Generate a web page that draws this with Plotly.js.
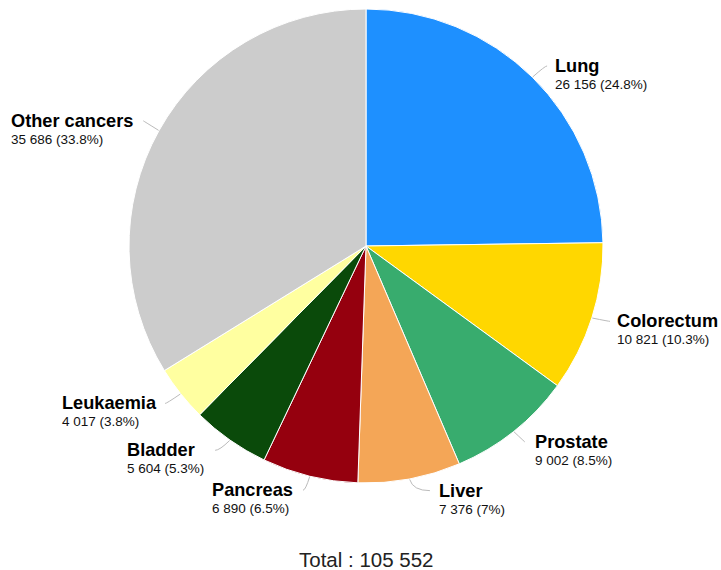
<!DOCTYPE html>
<html>
<head>
<meta charset="utf-8">
<script src="https://cdn.plot.ly/plotly-3.0.1.min.js"></script>
<style>html,body{margin:0;padding:0;background:#fff;}#chart{width:721px;height:570px;}</style>
</head>
<body>
<div id="chart"></div>
<script>
// ---- data ----
const categories = ['Lung', 'Colorectum', 'Prostate', 'Liver', 'Pancreas', 'Bladder', 'Leukaemia', 'Other cancers'];
const cases = [26156, 10821, 9002, 7376, 6890, 5604, 4017, 35686];
const colors = ['#1E90FF', '#FFD700', '#38AC6E', '#F4A657', '#95000E', '#0A4A0A', '#FFFFA0', '#CCCCCC'];

// ---- layout parameters (label placement tweaks: dx, dy, text gap) ----
const W = 721, H = 570;
const pieBox = {x0: 129, x1: 603, y0: 9, y1: 483};
const labelAdjust = [[2, 1.5, 9], [1, -2, 8], [0, -3.5, 11], [17, -6, 10], [-2.5, -3.5, 10], [-4.5, -4.5, 20], [-1.5, -1.5, 9], [0, -1, 10]];
const FAMILY = 'Liberation Sans, Arial, sans-serif';
const NAME_SIZE = 18.2, VALUE_SIZE = 13.5;

const fmt = v => v.toString().replace(/\B(?=(\d{3})+(?!\d))/g, ' ');
const total = cases.reduce((a, b) => a + b, 0);

const canvas = document.createElement('canvas');
const ctx = canvas.getContext('2d');
ctx.font = 'bold ' + NAME_SIZE + 'px "Liberation Sans", Arial, sans-serif';
const nameWidth = t => ctx.measureText(t).width;

const cx = (pieBox.x0 + pieBox.x1) / 2, cy = (pieBox.y0 + pieBox.y1) / 2;
const r = (pieBox.x1 - pieBox.x0) / 2;
const px = x => x / W, py = y => 1 - y / H;

const annotations = [];
const shapes = [];
let cum = 0;
cases.forEach((v, i) => {
  const frac = v / total;
  const mid = (cum + frac / 2) * 2 * Math.PI;
  cum += frac;
  const s = Math.sin(mid), c = Math.cos(mid);
  const right = s > 0;
  const E = [cx + (r + 0.5) * s, cy - (r + 0.5) * c];
  const R = [cx + (r + 18) * s, cy - (r + 18) * c];
  const adj = labelAdjust[i];
  const L = [R[0] + adj[0], R[1] + adj[1]];
  const C = [R[0], L[1]];
  shapes.push({
    type: 'path', xref: 'paper', yref: 'paper',
    path: `M ${px(E[0])} ${py(E[1])} Q ${px(C[0])} ${py(C[1])} ${px(L[0])} ${py(L[1])}`,
    line: {color: '#BBBBBB', width: 1}
  });
  // left edge of the text block (block is left-aligned internally)
  const left = right ? L[0] + adj[2] - 3 : L[0] - adj[2] - nameWidth(categories[i]) - 2;
  const pct = parseFloat((frac * 100).toFixed(1));
  annotations.push({
    xref: 'paper', yref: 'paper', x: px(left), y: py(L[1]),
    xanchor: 'left', yanchor: 'middle', showarrow: false,
    text: '<b>' + categories[i] + '</b>',
    font: {family: FAMILY, size: NAME_SIZE, color: '#000'}
  });
  annotations.push({
    xref: 'paper', yref: 'paper', x: px(left), y: py(L[1] + 18.5),
    xanchor: 'left', yanchor: 'middle', showarrow: false,
    text: fmt(v) + ' (' + pct + '%)',
    font: {family: FAMILY, size: VALUE_SIZE, color: '#111'}
  });
});

annotations.push({
  xref: 'paper', yref: 'paper', x: px(366.5), y: py(559),
  xanchor: 'center', yanchor: 'middle', showarrow: false, borderpad: 0,
  text: 'Total : ' + fmt(total),
  font: {family: FAMILY, size: 20.5, color: '#222'}
});

const trace = {
  type: 'pie',
  labels: categories,
  values: cases,
  sort: false,
  direction: 'clockwise',
  rotation: 0,
  textinfo: 'none',
  hoverinfo: 'label+value+percent',
  marker: {colors: colors, line: {color: '#FFFFFF', width: 1}},
  domain: {x: [px(pieBox.x0), px(pieBox.x1)], y: [py(pieBox.y1), py(pieBox.y0)]},
  showlegend: false
};

const layout = {
  width: W, height: H,
  margin: {l: 0, r: 0, t: 0, b: 0},
  paper_bgcolor: '#FFFFFF',
  showlegend: false,
  annotations: annotations,
  shapes: shapes
};

Plotly.newPlot('chart', [trace], layout, {displayModeBar: false, staticPlot: true});
</script>
</body>
</html>
